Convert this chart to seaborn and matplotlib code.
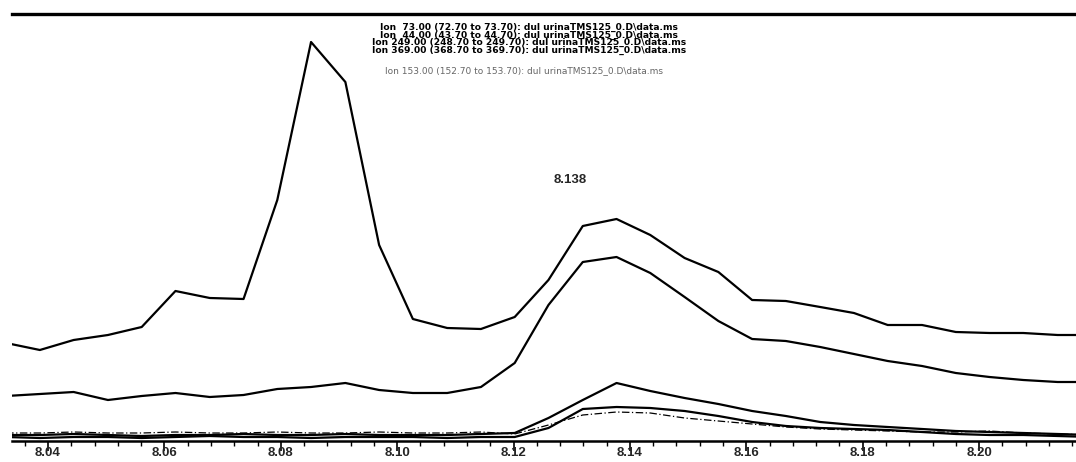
import numpy as np
import pandas as pd
import matplotlib
matplotlib.use("Agg")
import matplotlib.pyplot as plt
from matplotlib.ticker import MultipleLocator, FormatStrFormatter
import seaborn as sns

# Retention times of the scans (min)
scan_times = [8.0328, 8.0386, 8.0444, 8.0503, 8.0561, 8.0619, 8.0678, 8.0736,
              8.0794, 8.0852, 8.0911, 8.0969, 8.1027, 8.1086, 8.1144, 8.1202,
              8.1260, 8.1319, 8.1377, 8.1435, 8.1494, 8.1552, 8.1610, 8.1668,
              8.1727, 8.1785, 8.1843, 8.1902, 8.1960, 8.2018, 8.2076, 8.2135,
              8.2193]

# Extracted ion abundances (counts, x1000)
ion_73 = [490, 455, 505, 530, 570, 750, 715, 710, 1205, 1995, 1795, 980, 610,
          565, 560, 620, 805, 1075, 1110, 1030, 915, 845, 705, 700, 670, 640,
          580, 580, 545, 540, 540, 530, 530]
ion_44 = [225, 235, 245, 205, 225, 240, 220, 230, 260, 270, 290, 255, 240, 240,
          270, 390, 680, 895, 920, 840, 720, 600, 510, 500, 470, 435, 400, 375,
          340, 320, 305, 295, 295]
ion_249 = [30, 30, 35, 30, 25, 30, 30, 35, 30, 30, 35, 30, 30, 30, 35, 40, 115,
           205, 290, 250, 215, 185, 150, 125, 95, 80, 70, 60, 50, 45, 40, 35, 30]
ion_369 = [20, 15, 20, 20, 15, 20, 25, 20, 20, 15, 20, 20, 20, 15, 20, 20, 65,
           160, 170, 165, 150, 125, 95, 75, 65, 60, 55, 45, 35, 30, 30, 25, 20]
ion_153 = [40, 40, 45, 40, 40, 45, 40, 40, 45, 40, 40, 45, 40, 40, 45, 35, 80,
           130, 145, 140, 115, 100, 85, 70, 60, 55, 50, 45, 45, 50, 40, 35, 30]

legend_rows = [
    "Ion  73.00 (72.70 to 73.70): dul urinaTMS125_0.D\\data.ms",
    "Ion  44.00 (43.70 to 44.70): dul urinaTMS125_0.D\\data.ms",
    "Ion 249.00 (248.70 to 249.70): dul urinaTMS125_0.D\\data.ms",
    "Ion 369.00 (368.70 to 369.70): dul urinaTMS125_0.D\\data.ms",
]
legend_faint = "Ion 153.00 (152.70 to 153.70): dul urinaTMS125_0.D\\data.ms"
apex_label = "8.138"
apex_time = 8.138

sns.set_theme(style="white")
narrow = ["Liberation Sans Narrow", "Liberation Sans", "DejaVu Sans"]
wide = ["DejaVu Sans"]
plt.rcParams["font.family"] = narrow

W, H = 1076, 462
fig = plt.figure(figsize=(W / 100, H / 100), dpi=100)
ax = fig.add_axes([12 / W, 1 - 441 / H, 1 - 12 / W, (441 - 14) / H])

series = [
    (ion_73, "-", 1.6),
    (ion_44, "-", 1.6),
    (ion_249, "-", 1.6),
    (ion_369, "-", 1.6),
    (ion_153, (0, (6, 2, 1, 2)), 0.9),
]
for vals, ls, lw in series:
    df = pd.DataFrame({"t": scan_times, "abund": np.asarray(vals) * 1000})
    sns.lineplot(data=df, x="t", y="abund", ax=ax, color="black",
                 linestyle=ls, linewidth=lw, legend=False)

ax.set_xlim(8.03381, 8.21666)
ax.set_ylim(0, 2135000)
ax.set_xlabel("")
ax.set_ylabel("")
ax.set_yticks([])

ax.xaxis.set_major_locator(MultipleLocator(0.02))
ax.xaxis.set_minor_locator(MultipleLocator(0.004))
ax.xaxis.set_major_formatter(FormatStrFormatter("%.2f"))
ax.tick_params(axis="x", which="major", direction="out", length=7, width=1.2,
               pad=-2.5, labelsize=9.5, color="black", bottom=True)
ax.tick_params(axis="x", which="minor", direction="out", length=3.5,
               width=1.0, color="black", bottom=True)
for lab in ax.get_xticklabels():
    lab.set_fontweight("bold")

for side in ("left", "right"):
    ax.spines[side].set_visible(False)
ax.spines["top"].set_linewidth(2.4)
ax.spines["bottom"].set_linewidth(1.8)
ax.spines["top"].set_color("black")
ax.spines["bottom"].set_color("black")

# Ion legend block at the top, one centred multi-line text
cx = 529 / W
fig.text(cx, 1 - 39 / H, "\n".join(legend_rows), ha="center", va="center",
         multialignment="center", fontsize=6.6, fontweight="bold",
         family=wide, linespacing=0.8, color="black")
fig.text(cx - 5 / W, 1 - 71 / H, legend_faint, ha="center", va="center",
         fontsize=6.5, family=wide, color="#666666")

ax.annotate(apex_label, xy=(apex_time, 0), xycoords=("data", "axes fraction"),
            xytext=(apex_time - 0.0083, 1 - (180 - 14) / 427),
            textcoords=("data", "axes fraction"), ha="center", va="center",
            fontsize=9.5, fontweight="bold")

fig.savefig("out.png", dpi=100)
